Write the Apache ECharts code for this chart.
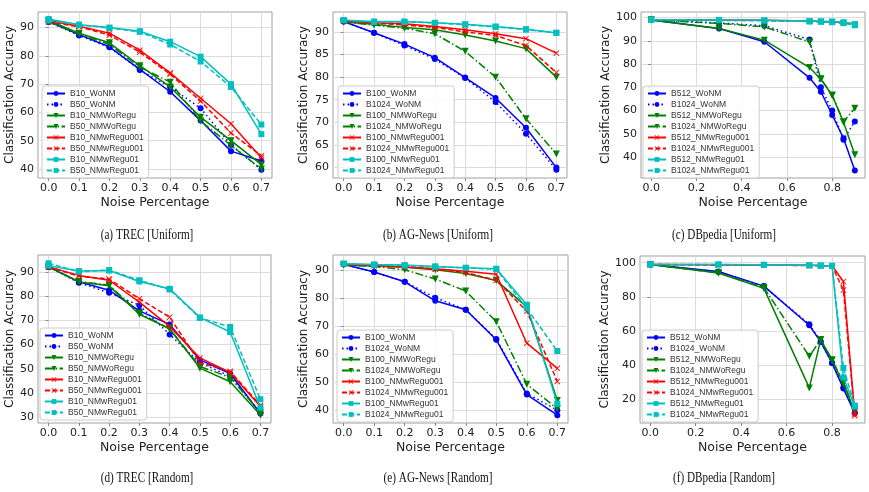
<!DOCTYPE html>
<html><head><meta charset="utf-8">
<script src="https://cdn.jsdelivr.net/npm/echarts@6/dist/echarts.min.js"></script>
<style>html,body{margin:0;padding:0;background:#fff}#c{width:869px;height:492px}</style>
</head><body><div id="c"></div>
<script>
// ---------- x values & ticks ----------
const xSeven = [0, 0.1, 0.2, 0.3, 0.4, 0.5, 0.6, 0.7];
const xDb = [0, 0.3, 0.5, 0.7, 0.75, 0.8, 0.85, 0.9];
const xTicksSeven = [0, 0.1, 0.2, 0.3, 0.4, 0.5, 0.6, 0.7];
const xTicksDb = [0, 0.2, 0.4, 0.6, 0.8];
const yTicksA = [40, 50, 60, 70, 80, 90];
const yTicksB = [60, 65, 70, 75, 80, 85, 90];
const yTicksC = [40, 50, 60, 70, 80, 90, 100];
const yTicksD = [30, 40, 50, 60, 70, 80, 90];
const yTicksE = [40, 50, 60, 70, 80, 90];
const yTicksF = [20, 40, 60, 80, 100];

// ---------- legend names ----------
const namesTrec = ['B10_WoNM','B50_WoNM','B10_NMWoRegu','B50_NMWoRegu','B10_NMwRegu001','B50_NMwRegu001','B10_NMwRegu01','B50_NMwRegu01'];
const namesAg = ['B100_WoNM','B1024_WoNM','B100_NMWoRegu','B1024_NMWoRegu','B100_NMwRegu001','B1024_NMwRegu001','B100_NMwRegu01','B1024_NMwRegu01'];
const namesDb = ['B512_WoNM','B1024_WoNM','B512_NMWoRegu','B1024_NMWoRegu','B512_NMwRegu001','B1024_NMwRegu001','B512_NMwRegu01','B1024_NMwRegu01'];

// ---------- (a) TREC [Uniform] ----------
const a_B10_WoNM       = [92.2, 87.5, 83.2, 75.2, 67.3, 57.1, 46.3, 42.8];
const a_B50_WoNM       = [92.0, 87.2, 83.0, 75.0, 68.9, 61.5, 48.5, 39.7];
const a_B10_NMWoRegu   = [92.5, 88.0, 84.6, 76.5, 69.0, 58.3, 50.0, 41.5];
const a_B50_NMWoRegu   = [92.0, 87.7, 84.0, 76.0, 70.7, 57.0, 48.3, 40.0];
const a_B10_NMwRegu001 = [92.5, 90.5, 88.0, 82.0, 74.0, 65.0, 56.0, 44.0];
const a_B50_NMwRegu001 = [92.0, 90.3, 87.3, 81.3, 73.5, 64.0, 52.7, 44.7];
const a_B10_NMwRegu01  = [93.0, 91.0, 90.0, 88.7, 85.0, 79.7, 70.0, 52.3];
const a_B50_NMwRegu01  = [92.5, 91.0, 89.8, 88.5, 84.0, 78.0, 69.0, 55.7];

// ---------- (b) AG-News [Uniform] ----------
const b_B100_WoNM        = [92.3, 89.8, 87.3, 84.3, 79.9, 75.4, 68.8, 60.0];
const b_B1024_WoNM       = [92.3, 89.8, 87.0, 84.0, 79.8, 74.5, 67.5, 59.5];
const b_B100_NMWoRegu    = [92.2, 91.7, 91.0, 90.5, 89.3, 88.0, 86.3, 80.0];
const b_B1024_NMWoRegu   = [92.2, 91.5, 90.8, 89.6, 85.7, 80.0, 70.8, 63.0];
const b_B100_NMwRegu001  = [92.4, 92.0, 91.8, 91.2, 90.5, 89.6, 88.5, 85.3];
const b_B1024_NMwRegu001 = [92.4, 92.0, 91.5, 91.0, 90.0, 89.2, 87.0, 81.0];
const b_B100_NMwRegu01   = [92.6, 92.3, 92.3, 92.0, 91.7, 91.2, 90.6, 89.8];
const b_B1024_NMwRegu01  = [92.6, 92.2, 92.2, 92.0, 91.6, 91.1, 90.5, 89.8];

// ---------- (c) DBpedia [Uniform] ----------
const c_B512_WoNM        = [99.0, 95.3, 89.6, 74.1, 68.1, 58.1, 48.1, 34.2];
const c_B1024_WoNM       = [99.0, 97.7, 96.5, 90.6, 70.0, 60.0, 47.5, 55.3];
const c_B512_NMWoRegu    = [99.0, 95.3, 90.3, 78.5, 73.5, 66.5, 55.0, 41.0];
const c_B1024_NMWoRegu   = [99.0, 97.5, 96.0, 89.5, 73.7, 66.7, 55.2, 61.0];
const c_B512_NMwRegu001  = [99.0, 99.0, 98.8, 98.5, 98.3, 98.2, 97.8, 97.3];
const c_B1024_NMwRegu001 = [99.0, 98.8, 98.7, 98.4, 98.2, 98.0, 97.7, 97.0];
const c_B512_NMwRegu01   = [99.0, 99.0, 98.8, 98.5, 98.4, 98.3, 98.0, 97.2];
const c_B1024_NMwRegu01  = [99.0, 98.9, 98.7, 98.3, 98.2, 98.0, 97.6, 96.7];

// ---------- (d) TREC [Random] ----------
const d_B10_WoNM       = [92.0, 85.9, 82.4, 73.9, 68.3, 53.7, 48.1, 31.6];
const d_B50_WoNM       = [92.0, 85.5, 81.3, 76.2, 64.2, 52.5, 47.0, 32.0];
const d_B10_NMWoRegu   = [92.0, 85.8, 84.2, 72.5, 66.5, 50.3, 44.7, 31.0];
const d_B50_NMWoRegu   = [92.0, 86.0, 84.5, 73.0, 66.5, 51.0, 46.5, 32.0];
const d_B10_NMwRegu001 = [92.0, 88.5, 86.5, 77.5, 67.5, 54.5, 48.5, 34.5];
const d_B50_NMwRegu001 = [92.0, 88.2, 87.0, 78.9, 71.3, 52.5, 49.0, 35.0];
const d_B10_NMwRegu01  = [92.5, 90.3, 90.5, 86.0, 83.0, 71.2, 65.2, 34.0];
const d_B50_NMwRegu01  = [93.5, 90.0, 90.7, 86.5, 82.7, 71.0, 67.3, 37.5];

// ---------- (e) AG-News [Random] ----------
const e_B100_WoNM        = [92.3, 89.5, 86.0, 79.2, 76.0, 65.2, 45.6, 38.2];
const e_B1024_WoNM       = [92.3, 89.5, 86.0, 80.3, 76.0, 65.5, 46.0, 40.0];
const e_B100_NMWoRegu    = [92.0, 91.7, 91.2, 90.3, 89.0, 86.5, 77.0, 43.5];
const e_B1024_NMWoRegu   = [92.0, 91.5, 90.3, 87.0, 82.7, 71.7, 49.3, 40.5];
const e_B100_NMwRegu001  = [92.3, 91.8, 91.3, 90.7, 89.8, 88.7, 64.0, 55.0];
const e_B1024_NMwRegu001 = [92.3, 91.8, 91.5, 90.5, 89.3, 86.5, 75.5, 50.3];
const e_B100_NMwRegu01   = [92.5, 92.2, 92.0, 91.5, 91.0, 90.7, 77.8, 42.3];
const e_B1024_NMwRegu01  = [92.5, 92.1, 91.8, 91.4, 91.0, 90.5, 76.5, 61.2];

// ---------- (f) DBpedia [Random] ----------
const f_B512_WoNM        = [99.0, 94.8, 86.3, 63.4, 53.7, 41.4, 26.4, 12.0];
const f_B1024_WoNM       = [99.0, 94.5, 86.2, 64.0, 54.0, 41.3, 27.0, 12.5];
const f_B512_NMWoRegu    = [99.0, 94.0, 85.0, 26.8, 55.0, 43.0, 29.3, 13.0];
const f_B1024_NMWoRegu   = [99.0, 94.0, 85.5, 45.3, 55.0, 43.3, 30.0, 13.5];
const f_B512_NMwRegu001  = [99.0, 98.8, 98.7, 98.5, 98.3, 98.2, 89.0, 11.5];
const f_B1024_NMwRegu001 = [99.0, 98.5, 98.6, 98.3, 98.2, 98.0, 84.0, 10.5];
const f_B512_NMwRegu01   = [99.0, 99.0, 98.8, 98.5, 98.3, 98.2, 33.0, 16.0];
const f_B1024_NMwRegu01  = [99.0, 98.9, 98.7, 98.4, 98.2, 98.0, 38.5, 16.5];

// ---------- styles (not data) ----------
const XPATH = 'path://M1,0L5,4L9,0L10,1L6,5L10,9L9,10L5,6L1,10L0,9L4,5L0,1Z';
const STY = [
  {c:'#0000ff', s:'circle', r:0, t:'solid'},
  {c:'#0000ff', s:'circle', r:0, t:[1.5,3]},
  {c:'#008000', s:'triangle', r:180, t:'solid'},
  {c:'#008000', s:'triangle', r:180, t:[8,2.5,1.5,2.5]},
  {c:'#ff0000', s:XPATH, r:0, t:'solid'},
  {c:'#ff0000', s:XPATH, r:0, t:[5,2.5]},
  {c:'#00bfbf', s:'rect', r:0, t:'solid'},
  {c:'#00bfbf', s:'rect', r:0, t:[5,2.5]}
];

const panels = [
  {x:xSeven, names:namesTrec, ys:[a_B10_WoNM,a_B50_WoNM,a_B10_NMWoRegu,a_B50_NMWoRegu,a_B10_NMwRegu001,a_B50_NMwRegu001,a_B10_NMwRegu01,a_B50_NMwRegu01],
   xr:[-0.035,0.735], xt:xTicksSeven, yr:[36.8,95.5], yt:yTicksA, cap:'(a) TREC [Uniform]',
   g:{left:38,top:12,width:234,height:166}, lg:{left:42,top:86}, ng:22, cx:147, cy:235},
  {x:xSeven, names:namesAg, ys:[b_B100_WoNM,b_B1024_WoNM,b_B100_NMWoRegu,b_B1024_NMWoRegu,b_B100_NMwRegu001,b_B1024_NMwRegu001,b_B100_NMwRegu01,b_B1024_NMwRegu01],
   xr:[-0.035,0.735], xt:xTicksSeven, yr:[57.7,94.4], yt:yTicksB, cap:'(b) AG-News [Uniform]',
   g:{left:333,top:12,width:234,height:166}, lg:{left:338,top:86}, ng:23, cx:438, cy:235},
  {x:xDb, names:namesDb, ys:[c_B512_WoNM,c_B1024_WoNM,c_B512_NMWoRegu,c_B1024_NMWoRegu,c_B512_NMwRegu001,c_B1024_NMwRegu001,c_B512_NMwRegu01,c_B1024_NMwRegu01],
   xr:[-0.045,0.945], xt:xTicksDb, yr:[31,102.4], yt:yTicksC, cap:'(c) DBpedia [Uniform]',
   g:{left:641,top:12,width:224,height:166}, lg:{left:643,top:86}, ng:27, cx:724, cy:235},
  {x:xSeven, names:namesTrec, ys:[d_B10_WoNM,d_B50_WoNM,d_B10_NMWoRegu,d_B50_NMWoRegu,d_B10_NMwRegu001,d_B50_NMwRegu001,d_B10_NMwRegu01,d_B50_NMwRegu01],
   xr:[-0.035,0.735], xt:xTicksSeven, yr:[27.7,96.9], yt:yTicksD, cap:'(d) TREC [Random]',
   g:{left:38,top:255,width:233,height:168}, lg:{left:40,top:328}, ng:22, cx:147, cy:478},
  {x:xSeven, names:namesAg, ys:[e_B100_WoNM,e_B1024_WoNM,e_B100_NMWoRegu,e_B1024_NMWoRegu,e_B100_NMwRegu001,e_B1024_NMwRegu001,e_B100_NMwRegu01,e_B1024_NMwRegu01],
   xr:[-0.035,0.735], xt:xTicksSeven, yr:[35.4,95.6], yt:yTicksE, cap:'(e) AG-News [Random]',
   g:{left:333,top:255,width:235,height:168}, lg:{left:337,top:330}, ng:23, cx:438, cy:478},
  {x:xDb, names:namesDb, ys:[f_B512_WoNM,f_B1024_WoNM,f_B512_NMWoRegu,f_B1024_NMWoRegu,f_B512_NMwRegu001,f_B1024_NMwRegu001,f_B512_NMwRegu01,f_B1024_NMwRegu01],
   xr:[-0.045,0.945], xt:xTicksDb, yr:[6.3,103.9], yt:yTicksF, cap:'(f) DBpedia [Random]',
   g:{left:640,top:256,width:225,height:167}, lg:{left:642,top:330}, ng:27, cx:724, cy:478}
];

const FONT = 'DejaVu Sans';
const grid = [], xAxis = [], yAxis = [], series = [], legend = [], graphic = [];
panels.forEach((p, i) => {
  grid.push(Object.assign({show:true, borderColor:'#a0a0a0', borderWidth:1, containLabel:false}, p.g));
  xAxis.push({type:'value', gridIndex:i, min:p.xr[0], max:p.xr[1],
    name:'Noise Percentage', nameLocation:'middle', nameGap:18,
    nameTextStyle:{fontFamily:FONT, fontSize:12.5, color:'#222'},
    axisLine:{show:false},
    axisTick:{show:true, customValues:p.xt, length:3, lineStyle:{color:'#888'}},
    axisLabel:{customValues:p.xt, fontFamily:FONT, fontSize:11, color:'#222', margin:5,
      formatter:v => v.toFixed(1)},
    splitLine:{show:true, lineStyle:{color:'#dcdcdc', width:1}}
  });
  yAxis.push({type:'value', gridIndex:i, min:p.yr[0], max:p.yr[1],
    name:'Classification Accuracy', nameLocation:'middle', nameGap:p.ng,
    nameTextStyle:{fontFamily:FONT, fontSize:12, color:'#222'},
    axisLine:{show:false},
    axisTick:{show:true, customValues:p.yt, length:3, lineStyle:{color:'#888'}},
    axisLabel:{customValues:p.yt, fontFamily:FONT, fontSize:11, color:'#222', margin:4},
    splitLine:{show:true, lineStyle:{color:'#dcdcdc', width:1}}
  });
  p.names.forEach((nm, k) => {
    const st = STY[k];
    series.push({type:'line', name:nm, xAxisIndex:i, yAxisIndex:i,
      data:p.x.map((xv, j) => [xv, p.ys[k][j]]),
      symbol:st.s, symbolSize:(st.s==='triangle'?7:6), symbolRotate:st.r,
      showAllSymbol:true, animation:false, z:2+k,
      lineStyle:{color:st.c, width:1.5, type:st.t},
      itemStyle:{color:st.c, borderWidth:0}
    });
  });
  legend.push({orient:'vertical', left:p.lg.left, top:p.lg.top, data:p.names,
    itemWidth:18, itemHeight:6, itemGap:2, padding:[3,5,3,4],
    backgroundColor:'rgba(255,255,255,0.85)', borderColor:'#cccccc', borderWidth:1, borderRadius:3,
    textStyle:{fontFamily:'Liberation Sans', fontSize:8.5, lineHeight:8, color:'#333'},
    selectedMode:false
  });
  graphic.push({type:'text', x:p.cx, y:p.cy, scaleX:0.8, z:100,
    style:{text:p.cap, font:'14px "Liberation Serif"', fill:'#111', textAlign:'center', textVerticalAlign:'middle'}});
});

const chart = echarts.init(document.getElementById('c'), null, {renderer:'canvas'});
chart.setOption({backgroundColor:'#fff', animation:false, grid, xAxis, yAxis, series, legend, graphic});
</script>
</body></html>
